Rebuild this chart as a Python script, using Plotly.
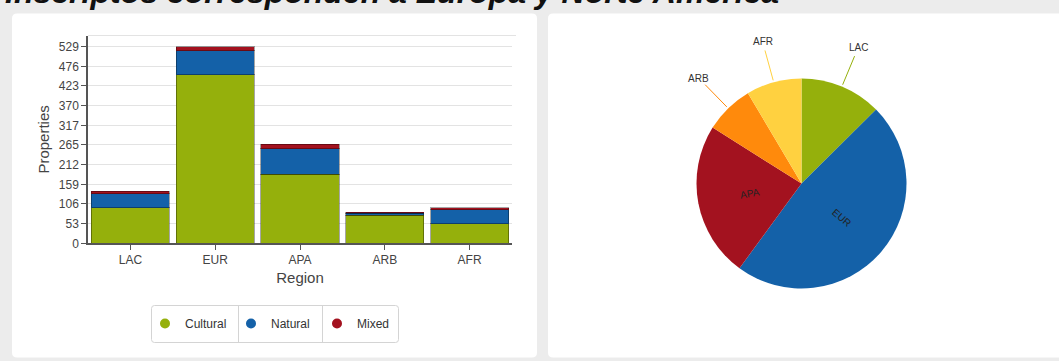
import math
import plotly.graph_objects as go

# ---------------- data ----------------
regions = ["LAC", "EUR", "APA", "ARB", "AFR"]
cultural = [95, 453, 186, 76, 52]
natural = [38, 65, 68, 5, 38]
mixed = [7, 11, 12, 3, 5]
series_names = ["Cultural", "Natural", "Mixed"]
series_colors = ["#95b00c", "#1461a8", "#a3121f"]
pie_colors = ["#95b00c", "#1461a8", "#a3121f", "#ff8a0c", "#ffd140"]
tick_vals = [0, 52.9, 105.8, 158.7, 211.6, 264.5, 317.4, 370.3, 423.2, 476.1, 529]
tick_text = ["0", "53", "106", "159", "212", "265", "317", "370", "423", "476", "529"]
outside_labels = ["LAC", "ARB", "AFR"]
title_text = "Inscriptos corresponden a Europa y Norte America"

totals = [c + n + m for c, n, m in zip(cultural, natural, mixed)]

# ---------------- geometry helpers (screen pixel -> paper) ----------------
W, H = 1059, 361          # design space (screen)
FIG_H = 368               # figure height (capture is squeezed to 361)
def px(x):
    return x / W
def py(y):
    return 1 - y / H

FONT = "Liberation Sans, Arial, sans-serif"

fig = go.Figure()

# stacked bars
for name, vals, col in zip(series_names, [cultural, natural, mixed], series_colors):
    fig.add_trace(go.Bar(
        x=regions, y=vals, name=name,
        marker=dict(color=col, line=dict(color="rgba(0,0,0,0.35)", width=1)),
        showlegend=False, legendgroup=name,
    ))
# legend entries with circle symbols
for name, col in zip(series_names, series_colors):
    fig.add_trace(go.Scatter(
        x=[None], y=[None], mode="markers", name=name, legendgroup=name,
        marker=dict(color=col, size=10, symbol="circle"),
    ))

# pie
PIE_CX, PIE_CY, PIE_R = 801.5, 183.5, 105
fig.add_trace(go.Pie(
    labels=regions, values=totals, sort=False, direction="clockwise", rotation=0,
    marker=dict(colors=pie_colors, line=dict(width=0)),
    textinfo="none",
    domain=dict(x=[px(PIE_CX - PIE_R), px(PIE_CX + PIE_R)], y=[py(PIE_CY + PIE_R), py(PIE_CY - PIE_R)]),
    showlegend=False, hoverinfo="label+value",
))

shapes = []
annotations = []

def rounded(x0, y0, x1, y1, r=5, round_right=True):
    rr = r if round_right else 0
    return (f"M {px(x0 + r)},{py(y0)} L {px(x1 - rr)},{py(y0)} Q {px(x1)},{py(y0)} {px(x1)},{py(y0 + rr)} "
            f"L {px(x1)},{py(y1 - rr)} Q {px(x1)},{py(y1)} {px(x1 - rr)},{py(y1)} "
            f"L {px(x0 + r)},{py(y1)} Q {px(x0)},{py(y1)} {px(x0)},{py(y1 - r)} "
            f"L {px(x0)},{py(y0 + r)} Q {px(x0)},{py(y0)} {px(x0 + r)},{py(y0)} Z")

# panels
shapes.append(dict(type="path", path=rounded(12, 13.5, 537, 357.5), xref="paper", yref="paper",
                   fillcolor="white", line=dict(width=0), layer="below"))
shapes.append(dict(type="path", path=rounded(548, 13.5, W, 357.5, round_right=False), xref="paper", yref="paper",
                   fillcolor="white", line=dict(width=0), layer="below"))

# top border line of bar plot area
shapes.append(dict(type="line", xref="paper", yref="paper", x0=px(88), x1=px(516), y0=py(35.5), y1=py(35.5),
                   line=dict(color="#e3e3e3", width=1), layer="below"))

# legend box + dividers
shapes.append(dict(type="path", path=rounded(151.5, 305.5, 398.5, 342.5, 3), xref="paper", yref="paper",
                   fillcolor="white", line=dict(color="#d4d4d4", width=1), layer="below"))
for xd in (238.5, 322.5):
    shapes.append(dict(type="line", xref="paper", yref="paper", x0=px(xd), x1=px(xd), y0=py(305.5), y1=py(342.5),
                       line=dict(color="#d4d4d4", width=1), layer="below"))

# pie labels (angles computed from the data)
total_all = sum(totals)
cum = 0
for r, v, col in zip(regions, totals, pie_colors):
    mid_deg = (cum + v / 2) / total_all * 360
    cum += v
    mid = math.radians(mid_deg)
    sx, sy = math.sin(mid), -math.cos(mid)
    if r in outside_labels:
        x0, y0 = PIE_CX + sx * (PIE_R + 2), PIE_CY + sy * (PIE_R + 2)
        x1, y1 = PIE_CX + sx * (PIE_R + 33), PIE_CY + sy * (PIE_R + 33)
        shapes.append(dict(type="line", xref="paper", yref="paper", x0=px(x0), y0=py(y0), x1=px(x1), y1=py(y1),
                           line=dict(color=col, width=1)))
        lx, ly = PIE_CX + sx * (PIE_R + 42), PIE_CY + sy * (PIE_R + 42)
        annotations.append(dict(text=r, x=px(lx), y=py(ly), xref="paper", yref="paper", showarrow=False,
                                xanchor="center", yanchor="middle", font=dict(size=10, color="#333", family=FONT)))
    else:
        ang = mid_deg - 90
        if ang > 90:
            ang -= 180
        lx, ly = PIE_CX + sx * PIE_R * 0.5, PIE_CY + sy * PIE_R * 0.5
        annotations.append(dict(text=r, x=px(lx), y=py(ly), xref="paper", yref="paper", showarrow=False,
                                textangle=ang, xanchor="center", yanchor="middle",
                                font=dict(size=10, color="#222", family=FONT)))

# clipped page title at the top
annotations.append(dict(text=f"<b><i>{title_text}</i></b>", x=px(3), y=py(12), xref="paper", yref="paper",
                        showarrow=False, xanchor="left", yanchor="bottom",
                        font=dict(size=32, color="#111", family=FONT)))

fig.update_layout(
    width=W, height=FIG_H, margin=dict(l=0, r=0, t=0, b=0),
    paper_bgcolor="#ececec", plot_bgcolor="rgba(0,0,0,0)",
    barmode="stack", bargap=0.08,
    font=dict(family=FONT, color="#444"),
    xaxis=dict(domain=[px(88), px(512)], type="category", showline=True, linecolor="#555", linewidth=1.5,
               ticks="outside", ticklen=5, tickcolor="#555", tickfont=dict(size=12, color="#444"),
               title=dict(text="Region", font=dict(size=15, color="#444"), standoff=6),
               showgrid=False, zeroline=False, anchor="y", fixedrange=True),
    yaxis=dict(domain=[py(243.3), py(35.5)], range=[0, 559], tickmode="array", tickvals=tick_vals, ticktext=tick_text,
               showline=True, linecolor="#555", linewidth=1.5, ticks="outside", ticklen=5, tickcolor="#555",
               tickfont=dict(size=12, color="#444"), gridcolor="#e3e3e3", zeroline=False,
               title=dict(text="Properties", font=dict(size=15, color="#444"), standoff=6), anchor="x",
               fixedrange=True),
    legend=dict(orientation="h", x=px(145), xanchor="left", y=py(323.5), yanchor="middle",
                bgcolor="rgba(0,0,0,0)", borderwidth=0, entrywidth=41, entrywidthmode="pixels",
                font=dict(size=12, color="#333", family=FONT), itemclick=False, itemdoubleclick=False),
    shapes=shapes, annotations=annotations,
)

page_fix = (
    "document.body.style.margin='0';"
    "document.body.style.lineHeight='0';"
    "document.body.style.fontSize='0';"
    "document.documentElement.style.overflow='hidden';"
    "document.querySelectorAll('.svg-container').forEach(function(e){e.style.display='block';});"
)
fig.write_html("out.html", post_script=page_fix, config={"displayModeBar": False})
